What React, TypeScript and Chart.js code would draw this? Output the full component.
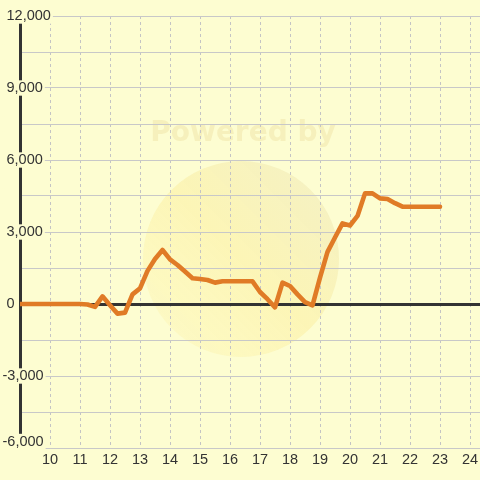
import React, { useEffect, useRef } from 'react';
import { Chart, registerables } from 'chart.js';

Chart.register(...registerables);

// Hours of the day (quarter-hour samples)
const HOURS = [
  9, 9.25, 9.5, 9.75, 10, 10.25, 10.5, 10.75, 11, 11.25, 11.5, 11.75,
  12, 12.25, 12.5, 12.75, 13, 13.25, 13.5, 13.75, 14, 14.25, 14.5, 14.75,
  15, 15.25, 15.5, 15.75, 16, 16.25, 16.5, 16.75, 17, 17.25, 17.5, 17.75,
  18, 18.25, 18.5, 18.75, 19, 19.25, 19.5, 19.75, 20, 20.25, 20.5, 20.75,
  21, 21.25, 21.5, 21.75, 22, 22.25, 22.5, 22.75, 23,
];

// Running value at each sample
const VALUES = [
  0, 0, 0, 0, 0, 0, 0, 0, 0, -20, -120, 320,
  -50, -400, -360, 400, 650, 1380, 1875, 2250, 1860, 1625, 1350, 1070,
  1040, 1000, 890, 945, 945, 945, 945, 945, 500, 200, -140, 890,
  750, 400, 80, -55, 1100, 2170, 2770, 3360, 3270, 3670, 4610, 4610,
  4400, 4375, 4200, 4055, 4055, 4055, 4055, 4055, 4055,
];

const X_TICKS = [10, 11, 12, 13, 14, 15, 16, 17, 18, 19, 20, 21, 22, 23, 24];
const Y_LABELED = [-6000, -3000, 0, 3000, 6000, 9000, 12000];

const BG = '#fdfdd1';
const TEXT = '#333333';
const LINE = '#e07b26';
const FONT = '"Liberation Sans", Arial, sans-serif';

const fmt = (v: number) => v.toLocaleString('en-US');

const watermark = {
  id: 'watermark',
  beforeDraw(chart: any) {
    // lift the lowest y label so it sits above the bottom edge, as in the original
    const ys = chart.scales.y;
    if (ys) {
      const items = ys.getLabelItems(chart.chartArea);
      for (const it of items) {
        if (it.label === fmt(Y_LABELED[0]) && !it.__shifted) {
          it.options.translation[1] -= 6.5;
          it.__shifted = true;
        }
      }
    }
    const { ctx } = chart;
    ctx.save();
    const cx = 241, cy = 259, r = 98;
    const g = ctx.createLinearGradient(cx - r, cy + r, cx + r, cy - r);
    g.addColorStop(0, 'rgba(255,246,175,0.3)');
    g.addColorStop(0.5, 'rgba(250,232,140,0.38)');
    g.addColorStop(1, 'rgba(228,220,178,0.4)');
    ctx.fillStyle = g;
    ctx.beginPath();
    ctx.arc(cx, cy, r, 0, Math.PI * 2);
    ctx.fill();
    ctx.font = 'bold 28px "DejaVu Sans", sans-serif';
    ctx.fillStyle = 'rgba(232,212,140,0.3)';
    ctx.textAlign = 'center';
    ctx.textBaseline = 'alphabetic';
    ctx.fillText('Powered by', 243, 141);
    ctx.restore();
  },
};

export default function App() {
  const ref = useRef<HTMLCanvasElement>(null);

  useEffect(() => {
    const chart = new Chart(ref.current as HTMLCanvasElement, {
      type: 'line',
      data: {
        datasets: [
          {
            data: HOURS.map((h, i) => ({ x: h, y: VALUES[i] })),
            borderColor: LINE,
            borderWidth: 4.6,
            pointRadius: 0,
            pointHoverRadius: 0,
            tension: 0,
            fill: false,
            borderJoinStyle: 'round',
            borderCapStyle: 'round',
          },
        ],
      },
      options: {
        animation: false,
        responsive: false,
        devicePixelRatio: 1,
        layout: { padding: { left: 2.5, top: 16, right: 0, bottom: 0 } },
        plugins: { legend: { display: false }, tooltip: { enabled: false } },
        scales: {
          x: {
            type: 'linear',
            min: 9,
            max: 24 + 1 / 3,
            afterBuildTicks: (s: any) => {
              s.ticks = X_TICKS.map((v) => ({ value: v }));
            },
            afterFit: (s: any) => {
              s.height = 32;
              s.paddingLeft = 0;
              s.paddingRight = 0;
            },
            ticks: {
              autoSkip: false,
              maxRotation: 0,
              padding: 4,
              color: TEXT,
              font: { family: FONT, size: 14.5, lineHeight: 1.06 },
              callback: (v: any) => String(v),
            },
            grid: { color: '#c4c4c4', lineWidth: 1, drawTicks: false, tickLength: 0 },
            border: { display: false, dash: [3, 3] },
          },
          y: {
            type: 'linear',
            min: -6000,
            max: 12000,
            afterFit: (s: any) => {
              s.width = 17.5;
              s.paddingTop = 0;
              s.paddingBottom = 0;
            },
            ticks: {
              stepSize: 1500,
              autoSkip: false,
              mirror: true,
              crossAlign: 'near',
              padding: -17.5,
              color: TEXT,
              font: { family: FONT, size: 14.5, lineHeight: 1.06 },
              showLabelBackdrop: true,
              backdropColor: BG,
              backdropPadding: { top: 0, bottom: 0, left: 0, right: 2 },
              callback: (v: any) => {
                const n = Number(v);
                if (!Y_LABELED.includes(n)) return '';
                return n < 0 ? fmt(n) : ' ' + fmt(n);
              },
            },
            grid: {
              color: (ctx: any) => (ctx.tick && ctx.tick.value === 0 ? '#333333' : '#c8c8c8'),
              lineWidth: (ctx: any) => (ctx.tick && ctx.tick.value === 0 ? 3 : 1),
              drawTicks: false,
              tickLength: 0,
            },
            border: { display: true, color: '#333333', width: 3 },
          },
        },
      },
      plugins: [watermark],
    } as any);
    return () => chart.destroy();
  }, []);

  return (
    <div style={{ position: 'absolute', left: 0, top: 0, width: 480, height: 480, background: BG }}>
      <canvas ref={ref} width={480} height={480} style={{ display: 'block' }} />
    </div>
  );
}
